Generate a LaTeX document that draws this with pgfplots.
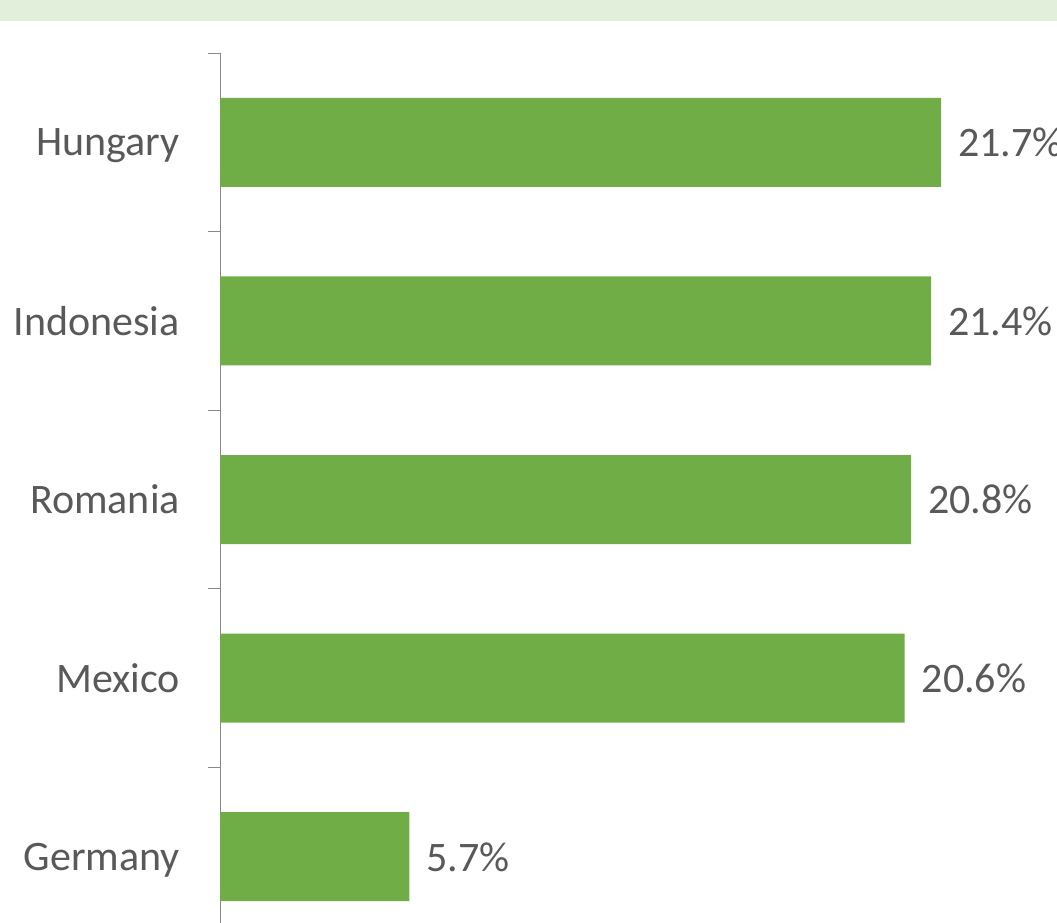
\documentclass[border=0pt]{standalone}
\usepackage{fontspec}
\setmainfont{Carlito}
\usepackage{pgfplots}
\pgfplotsset{compat=1.18}
\definecolor{barcol}{HTML}{70AD47}
\definecolor{txtcol}{HTML}{595959}
\definecolor{axcol}{HTML}{898989}
\definecolor{bandcol}{HTML}{E2EFDA}
\begin{document}
\begin{tikzpicture}
\useasboundingbox (0,0) rectangle (1057pt,922pt);
\fill[bandcol] (0,901pt) rectangle (1057pt,922pt);
\begin{scope}[overlay]
\begin{axis}[
  at={(220pt,869pt)}, anchor=north west,
  scale only axis,
  width=830.75pt, height=893pt,
  xmin=0, xmax=25,
  ymin=-0.5, ymax=4.5,
  y dir=reverse,
  xbar, bar width=89pt,
  hide x axis,
  axis y line*=left,
  y axis line style={-, draw=axcol, line width=1pt},
  ytick={0,1,2,3,4},
  yticklabels={Hungary,Indonesia,Romania,Mexico,Germany},
  minor ytick={-0.5,0.5,1.5,2.5,3.5,4.5},
  tick align=outside,
  major tick length=0pt,
  minor tick length=12pt,
  every minor tick/.style={draw=axcol, line width=1pt},
  yticklabel style={anchor=east, inner sep=0pt, text depth=0pt, xshift=-40pt,
     font=\fontsize{42}{50}\selectfont, text=txtcol},
  clip=false,
  nodes near coords={\pgfmathprintnumber[fixed,fixed zerofill,precision=1,assume math mode=true]{\pgfplotspointmeta}\%},
  nodes near coords style={anchor=west, inner sep=0pt, xshift=17pt, text depth=0pt,
     font=\fontsize{42}{50}\selectfont, text=txtcol},
  point meta=x,
]
\addplot[fill=barcol, draw=none] coordinates {
  (21.7,0) (21.4,1) (20.8,2) (20.6,3) (5.7,4)
};
\end{axis}
\end{scope}
\end{tikzpicture}
\end{document}
